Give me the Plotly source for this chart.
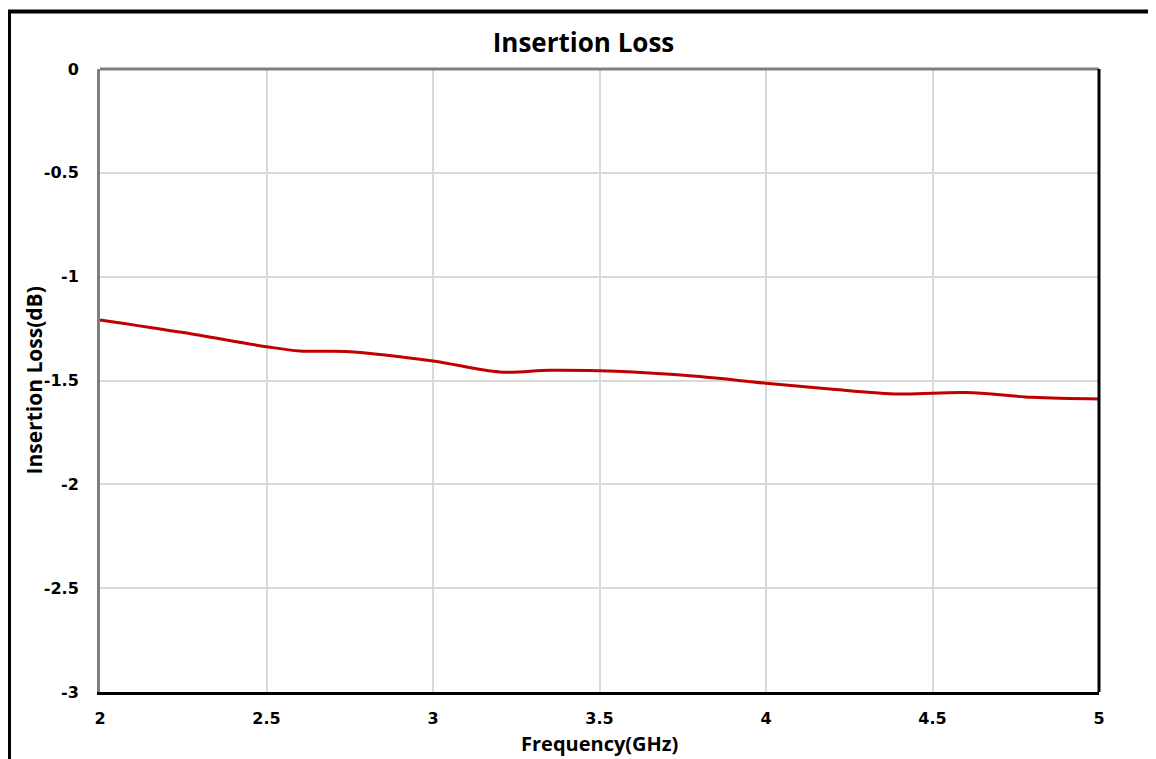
import plotly.graph_objects as go

freq = [2.0, 2.25, 2.5, 2.6, 2.75, 3.0, 3.2, 3.35, 3.5, 3.6, 3.8, 4.0, 4.2, 4.4, 4.6, 4.8, 5.0]
loss = [-1.208, -1.269, -1.337, -1.358, -1.361, -1.406, -1.459, -1.451, -1.453, -1.459, -1.481, -1.513, -1.542, -1.565, -1.558, -1.581, -1.589]

x_ticks = [2, 2.5, 3, 3.5, 4, 4.5, 5]
x_tick_text = ["2", "2.5", "3", "3.5", "4", "4.5", "5"]
y_ticks = [0, -0.5, -1, -1.5, -2, -2.5, -3]
y_tick_text = ["0", "-0.5", "-1", "-1.5", "-2", "-2.5", "-3"]

FONT = "Open Sans"
TICKFONT = "DejaVu Sans"

W, H = 1148, 751
L, T = 92, 61
PW, PH = 999, 623

fig = go.Figure()
fig.add_trace(go.Scatter(
    x=freq, y=loss, mode="lines",
    line=dict(color="#c00000", width=3, shape="spline", smoothing=1.0),
    showlegend=False, hoverinfo="skip",
))

fig.update_layout(
    width=W, height=H,
    margin=dict(l=L, r=W - L - PW, t=T, b=H - T - PH, pad=0, autoexpand=False),
    paper_bgcolor="white", plot_bgcolor="white",
    font=dict(family=FONT, color="black"),
    title=dict(text="<b>Insertion Loss</b>", x=575.5 / W, xref="container", xanchor="center",
               y=1 - 35 / H, yref="container", yanchor="middle",
               font=dict(size=26, family=FONT, color="black")),
)

fig.update_xaxes(
    range=[2, 5], tickvals=x_ticks, ticktext=["<b>%s</b>" % t for t in x_tick_text],
    tickfont=dict(size=16, family=TICKFONT, color="black"),
    showgrid=True, gridcolor="#d9d9d9", gridwidth=1.5,
    showline=True, linecolor="black", linewidth=3,
    ticks="", ticklabelstandoff=10, automargin=False,
    zeroline=False,
)
fig.update_yaxes(
    range=[-3, 0], tickvals=y_ticks, ticktext=["<b>%s</b>" % t for t in y_tick_text],
    tickfont=dict(size=16, family=TICKFONT, color="black"),
    showgrid=True, gridcolor="#d9d9d9", gridwidth=1.5,
    showline=True, linecolor="#7f7f7f", linewidth=3,
    ticks="", ticklabelstandoff=15, automargin=False,
    zeroline=False,
)

# axis titles
fig.add_annotation(text="<b>Frequency(GHz)</b>", xref="paper", yref="paper", x=0.5, y=0,
                   xanchor="center", yanchor="middle", yshift=-51, showarrow=False,
                   font=dict(size=20, family=FONT, color="black"))
fig.add_annotation(text="<b>Insertion Loss(dB)</b>", xref="paper", yref="paper", x=0, y=0.5,
                   xanchor="center", yanchor="middle", xshift=-67, textangle=-90, showarrow=False,
                   font=dict(size=21, family=FONT, color="black"))

# top (gray) and right (black) frame of plot area
fig.add_shape(type="line", xref="paper", yref="paper", x0=0, x1=1, y0=1, y1=1,
              line=dict(color="#7f7f7f", width=3))
fig.add_shape(type="line", xref="paper", yref="paper", x0=1, x1=1, y0=0, y1=1,
              line=dict(color="black", width=3))
# outer chart frame
fig.add_shape(type="rect", xref="paper", yref="paper",
              x0=(9 - 100) / PW, x1=1.2, y0=-0.3, y1=(692 - 11.5) / PH,
              line=dict(color="black", width=4), layer="above")

fig.write_html("out.html")
